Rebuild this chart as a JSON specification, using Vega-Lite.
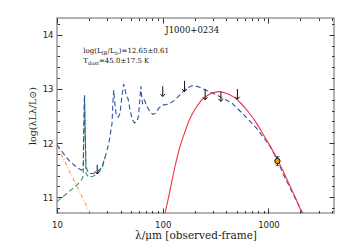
{
  "$schema": "https://vega.github.io/schema/vega-lite/v6.json",
  "width": 277,
  "height": 195,
  "autosize": "none",
  "padding": {"left": 57, "top": 18, "right": 16, "bottom": 37},
  "config": {"view": {"stroke": "#999999", "strokeWidth": 1.5}},
  "datasets": {
    "blue": [
      {"lam":10,"y":11.97},{"lam":11,"y":11.86},{"lam":12,"y":11.76},{"lam":13,"y":11.68},{"lam":14.4,"y":11.60},{"lam":16,"y":11.53},{"lam":17.2,"y":11.50},{"lam":17.7,"y":11.56},{"lam":17.95,"y":12.3},{"lam":18.2,"y":12.89},{"lam":18.45,"y":12.3},{"lam":18.8,"y":11.56},{"lam":19.9,"y":11.44},{"lam":22,"y":11.44},{"lam":23.9,"y":11.47},{"lam":26.6,"y":11.55},{"lam":28.6,"y":11.75},{"lam":30.8,"y":11.98},{"lam":33.1,"y":12.35},{"lam":34.0,"y":12.85},{"lam":34.4,"y":12.98},{"lam":35.2,"y":12.75},{"lam":36.4,"y":12.50},{"lam":38,"y":12.48},{"lam":39.5,"y":12.55},{"lam":41,"y":12.85},{"lam":42.7,"y":13.09},{"lam":44,"y":13.0},{"lam":45.2,"y":12.88},{"lam":47,"y":12.82},{"lam":49,"y":12.62},{"lam":51.2,"y":12.45},{"lam":54,"y":12.37},{"lam":57,"y":12.40},{"lam":59,"y":12.50},{"lam":61,"y":12.85},{"lam":62.2,"y":13.05},{"lam":63.3,"y":12.85},{"lam":64.5,"y":12.72},{"lam":66.7,"y":12.80},{"lam":68.5,"y":12.76},{"lam":71,"y":12.67},{"lam":76,"y":12.58},{"lam":80.6,"y":12.53},{"lam":85.7,"y":12.55},{"lam":91.4,"y":12.64},{"lam":98.4,"y":12.70},{"lam":113.8,"y":12.72},{"lam":126.6,"y":12.78},{"lam":146,"y":12.89},{"lam":163,"y":13.00},{"lam":189,"y":13.06},{"lam":218,"y":13.04},{"lam":261,"y":12.97},{"lam":324,"y":12.89},{"lam":403,"y":12.79},{"lam":451,"y":12.74},{"lam":580,"y":12.53},{"lam":776,"y":12.27},{"lam":1038,"y":11.94},{"lam":1216,"y":11.68},{"lam":1387,"y":11.42},{"lam":1722,"y":11.05},{"lam":2080,"y":10.73},{"lam":2200,"y":10.62}
    ],
    "green": [
      {"lam":10,"y":10.92},{"lam":12.4,"y":11.07},{"lam":15.5,"y":11.23},{"lam":17.2,"y":11.33},{"lam":17.7,"y":11.40},{"lam":17.95,"y":12.25},{"lam":18.2,"y":12.86},{"lam":18.45,"y":12.25},{"lam":18.8,"y":11.45},{"lam":19.9,"y":11.37},{"lam":22,"y":11.39},{"lam":23.9,"y":11.43},{"lam":26.6,"y":11.53},{"lam":28.6,"y":11.75}
    ],
    "orange": [
      {"lam":10,"y":11.95},{"lam":15,"y":11.25},{"lam":22,"y":10.6}
    ],
    "red": [
      {"lam":103,"y":10.62},{"lam":115,"y":11.05},{"lam":130,"y":11.55},{"lam":145,"y":11.92},{"lam":163,"y":12.22},{"lam":179,"y":12.43},{"lam":200,"y":12.61},{"lam":230,"y":12.78},{"lam":260,"y":12.87},{"lam":290,"y":12.92},{"lam":340,"y":12.95},{"lam":400,"y":12.92},{"lam":470,"y":12.85},{"lam":540,"y":12.75},{"lam":650,"y":12.57},{"lam":776,"y":12.36},{"lam":900,"y":12.15},{"lam":1000,"y":12.0},{"lam":1216,"y":11.70},{"lam":1387,"y":11.47},{"lam":1600,"y":11.21},{"lam":1800,"y":10.99},{"lam":2000,"y":10.78},{"lam":2200,"y":10.58}
    ],
    "limits": [
      {"lam":24,"ytop":11.60,"ytip":11.43},
      {"lam":100,"ytop":13.05,"ytip":12.86},
      {"lam":161,"ytop":13.15,"ytip":12.95},
      {"lam":252,"ytop":13.0,"ytip":12.80},
      {"lam":355,"ytop":12.95,"ytip":12.77},
      {"lam":509,"ytop":13.0,"ytip":12.81}
    ],
    "detect": [
      {"lam":1216,"y":11.67,"lo":11.59,"hi":11.75}
    ]
  },
  "layer": [
    {
      "data": {"name": "orange"},
      "mark": {"type": "line", "color": "#ff9a3c", "strokeWidth": 1.1, "strokeDash": [4, 2, 1, 2], "clip": true},
      "encoding": {
        "x": {"field": "lam", "type": "quantitative", "scale": {"type": "log", "domain": [10, 4170], "nice": false},
          "axis": {"orient": "bottom", "values": [10, 100, 1000], "format": "d",
            "tickSize": -5, "tickColor": "#333333", "labelPadding": 12, "labelFlush": false, "labelOverlap": false, "grid": false, "domain": false,
            "labelFont": "DejaVu Sans", "labelFontSize": 8.5, "labelColor": "#222222",
            "title": "λ/μm [observed-frame]", "titleFont": "DejaVu Serif", "titleFontSize": 10.5, "titleFontWeight": "normal", "titleColor": "#222222", "titlePadding": 2}},
        "y": {"field": "y", "type": "quantitative", "scale": {"domain": [10.71, 14.31], "nice": false, "zero": false},
          "axis": {"orient": "left", "values": [11, 12, 13, 14], "format": "d",
            "tickSize": -5, "tickColor": "#333333", "labelPadding": 9, "labelFlush": false, "labelOverlap": false, "grid": false, "domain": false,
            "labelFont": "DejaVu Sans", "labelFontSize": 8.5, "labelColor": "#222222",
            "title": "log(λLλ/L⊙)", "titleFont": "DejaVu Serif", "titleFontSize": 9.5, "titleFontWeight": "normal", "titleColor": "#222222", "titlePadding": 5}}
      }
    },
    {
      "data": {"name": "green"},
      "mark": {"type": "line", "color": "#2f9a5a", "strokeWidth": 1.1, "strokeDash": [5, 3], "clip": true},
      "encoding": {
        "x": {"field": "lam", "type": "quantitative", "scale": {"type": "log", "domain": [10, 4170], "nice": false},
          "axis": {"orient": "bottom", "values": [20,30,40,50,60,70,80,90,200,300,400,500,600,700,800,900,2000,3000,4000],
            "labels": false, "title": null, "grid": false, "domain": false, "tickColor": "#333333", "tickSize": -2.5}},
        "y": {"field": "y", "type": "quantitative", "scale": {"domain": [10.71, 14.31], "nice": false, "zero": false},
          "axis": {"orient": "left", "values": [10.8,11.2,11.4,11.6,11.8,12.2,12.4,12.6,12.8,13.2,13.4,13.6,13.8,14.2],
            "labels": false, "title": null, "grid": false, "domain": false, "tickColor": "#333333", "tickSize": -2.5}}
      }
    },
    {
      "data": {"name": "blue"},
      "mark": {"type": "line", "color": "#3050a8", "strokeWidth": 1.1, "strokeDash": [5, 3], "clip": true},
      "encoding": {
        "x": {"field": "lam", "type": "quantitative", "scale": {"type": "log", "domain": [10, 4170], "nice": false},
          "axis": {"orient": "top", "values": [10, 100, 1000],
            "labels": false, "title": null, "grid": false, "domain": false, "tickColor": "#333333", "tickSize": -5}},
        "y": {"field": "y", "type": "quantitative", "scale": {"domain": [10.71, 14.31], "nice": false, "zero": false},
          "axis": {"orient": "right", "values": [11, 12, 13, 14],
            "labels": false, "title": null, "grid": false, "domain": false, "tickColor": "#333333", "tickSize": -5}}
      }
    },
    {
      "data": {"name": "red"},
      "mark": {"type": "line", "color": "#f03448", "strokeWidth": 1.1, "interpolate": "monotone", "clip": true},
      "encoding": {
        "x": {"field": "lam", "type": "quantitative", "scale": {"type": "log", "domain": [10, 4170], "nice": false},
          "axis": {"orient": "top", "values": [20,30,40,50,60,70,80,90,200,300,400,500,600,700,800,900,2000,3000,4000],
            "labels": false, "title": null, "grid": false, "domain": false, "tickColor": "#333333", "tickSize": -2.5}},
        "y": {"field": "y", "type": "quantitative", "scale": {"domain": [10.71, 14.31], "nice": false, "zero": false},
          "axis": {"orient": "right", "values": [10.8,11.2,11.4,11.6,11.8,12.2,12.4,12.6,12.8,13.2,13.4,13.6,13.8,14.2],
            "labels": false, "title": null, "grid": false, "domain": false, "tickColor": "#333333", "tickSize": -2.5}}
      }
    },
    {
      "data": {"name": "limits"},
      "mark": {"type": "rule", "color": "#111111", "strokeWidth": 1},
      "encoding": {
        "x": {"field": "lam", "type": "quantitative", "scale": {"type": "log", "domain": [10, 4170], "nice": false}, "axis": null},
        "y": {"field": "ytop", "type": "quantitative", "scale": {"domain": [10.71, 14.31], "nice": false, "zero": false}, "axis": null},
        "y2": {"field": "ytip"}
      }
    },
    {
      "data": {"name": "limits"},
      "mark": {"type": "point", "shape": "M-1,-1.1L0,0L1,-1.1", "filled": false, "stroke": "#111111", "strokeWidth": 1, "size": 22, "opacity": 1},
      "encoding": {
        "x": {"field": "lam", "type": "quantitative", "scale": {"type": "log", "domain": [10, 4170], "nice": false}, "axis": null},
        "y": {"field": "ytip", "type": "quantitative", "scale": {"domain": [10.71, 14.31], "nice": false, "zero": false}, "axis": null}
      }
    },
    {
      "data": {"name": "detect"},
      "mark": {"type": "rule", "color": "#111111", "strokeWidth": 1},
      "encoding": {
        "x": {"field": "lam", "type": "quantitative", "scale": {"type": "log", "domain": [10, 4170], "nice": false}, "axis": null},
        "y": {"field": "lo", "type": "quantitative", "scale": {"domain": [10.71, 14.31], "nice": false, "zero": false}, "axis": null},
        "y2": {"field": "hi"}
      }
    },
    {
      "data": {"name": "detect"},
      "mark": {"type": "tick", "orient": "horizontal", "color": "#111111", "thickness": 1, "size": 4},
      "encoding": {
        "x": {"field": "lam", "type": "quantitative", "scale": {"type": "log", "domain": [10, 4170], "nice": false}, "axis": null},
        "y": {"field": "lo", "type": "quantitative", "scale": {"domain": [10.71, 14.31], "nice": false, "zero": false}, "axis": null}
      }
    },
    {
      "data": {"name": "detect"},
      "mark": {"type": "tick", "orient": "horizontal", "color": "#111111", "thickness": 1, "size": 4},
      "encoding": {
        "x": {"field": "lam", "type": "quantitative", "scale": {"type": "log", "domain": [10, 4170], "nice": false}, "axis": null},
        "y": {"field": "hi", "type": "quantitative", "scale": {"domain": [10.71, 14.31], "nice": false, "zero": false}, "axis": null}
      }
    },
    {
      "data": {"name": "detect"},
      "mark": {"type": "point", "shape": "circle", "filled": true, "fill": "#f5a000", "stroke": "#111111", "strokeWidth": 1, "size": 28, "opacity": 1},
      "encoding": {
        "x": {"field": "lam", "type": "quantitative", "scale": {"type": "log", "domain": [10, 4170], "nice": false}, "axis": null},
        "y": {"field": "y", "type": "quantitative", "scale": {"domain": [10.71, 14.31], "nice": false, "zero": false}, "axis": null}
      }
    },
    {
      "data": {"values": [{"lam": 190, "y": 14.09, "label": "J1000+0234"}]},
      "mark": {"type": "text", "align": "center", "baseline": "middle", "font": "DejaVu Serif", "fontSize": 8.5, "color": "#111111"},
      "encoding": {
        "x": {"field": "lam", "type": "quantitative", "scale": {"type": "log", "domain": [10, 4170], "nice": false}, "axis": null},
        "y": {"field": "y", "type": "quantitative", "scale": {"domain": [10.71, 14.31], "nice": false, "zero": false}, "axis": null},
        "text": {"field": "label"}
      }
    },
    {
      "data": {"values": [{"lam": 17.73, "y": 13.70, "label": "log(L"}]},
      "mark": {"type": "text", "align": "left", "baseline": "middle", "font": "DejaVu Serif", "fontSize": 7, "color": "#111111", "dx": 0},
      "encoding": {
        "x": {"field": "lam", "type": "quantitative", "scale": {"type": "log", "domain": [10, 4170], "nice": false}, "axis": null},
        "y": {"field": "y", "type": "quantitative", "scale": {"domain": [10.71, 14.31], "nice": false, "zero": false}, "axis": null},
        "text": {"field": "label"}
      }
    },
    {
      "data": {"values": [{"lam": 17.73, "y": 13.70, "label": "IR"}]},
      "mark": {"type": "text", "align": "left", "baseline": "middle", "font": "DejaVu Serif", "fontSize": 5, "color": "#111111", "dx": 18.3, "dy": 2},
      "encoding": {
        "x": {"field": "lam", "type": "quantitative", "scale": {"type": "log", "domain": [10, 4170], "nice": false}, "axis": null},
        "y": {"field": "y", "type": "quantitative", "scale": {"domain": [10.71, 14.31], "nice": false, "zero": false}, "axis": null},
        "text": {"field": "label"}
      }
    },
    {
      "data": {"values": [{"lam": 17.73, "y": 13.70, "label": "/L"}]},
      "mark": {"type": "text", "align": "left", "baseline": "middle", "font": "DejaVu Serif", "fontSize": 7, "color": "#111111", "dx": 24.3},
      "encoding": {
        "x": {"field": "lam", "type": "quantitative", "scale": {"type": "log", "domain": [10, 4170], "nice": false}, "axis": null},
        "y": {"field": "y", "type": "quantitative", "scale": {"domain": [10.71, 14.31], "nice": false, "zero": false}, "axis": null},
        "text": {"field": "label"}
      }
    },
    {
      "data": {"values": [{"lam": 17.73, "y": 13.70, "label": "⊙"}]},
      "mark": {"type": "text", "align": "left", "baseline": "middle", "font": "DejaVu Sans", "fontSize": 5, "color": "#111111", "dx": 31.1, "dy": 2},
      "encoding": {
        "x": {"field": "lam", "type": "quantitative", "scale": {"type": "log", "domain": [10, 4170], "nice": false}, "axis": null},
        "y": {"field": "y", "type": "quantitative", "scale": {"domain": [10.71, 14.31], "nice": false, "zero": false}, "axis": null},
        "text": {"field": "label"}
      }
    },
    {
      "data": {"values": [{"lam": 17.73, "y": 13.70, "label": ")=12.65±0.61"}]},
      "mark": {"type": "text", "align": "left", "baseline": "middle", "font": "DejaVu Serif", "fontSize": 7, "color": "#111111", "dx": 35.5},
      "encoding": {
        "x": {"field": "lam", "type": "quantitative", "scale": {"type": "log", "domain": [10, 4170], "nice": false}, "axis": null},
        "y": {"field": "y", "type": "quantitative", "scale": {"domain": [10.71, 14.31], "nice": false, "zero": false}, "axis": null},
        "text": {"field": "label"}
      }
    },
    {
      "data": {"values": [{"lam": 17.73, "y": 13.52, "label": "T"}]},
      "mark": {"type": "text", "align": "left", "baseline": "middle", "font": "DejaVu Serif", "fontSize": 7, "color": "#111111", "dx": 0},
      "encoding": {
        "x": {"field": "lam", "type": "quantitative", "scale": {"type": "log", "domain": [10, 4170], "nice": false}, "axis": null},
        "y": {"field": "y", "type": "quantitative", "scale": {"domain": [10.71, 14.31], "nice": false, "zero": false}, "axis": null},
        "text": {"field": "label"}
      }
    },
    {
      "data": {"values": [{"lam": 17.73, "y": 13.52, "label": "dust"}]},
      "mark": {"type": "text", "align": "left", "baseline": "middle", "font": "DejaVu Serif", "fontSize": 5, "color": "#111111", "dx": 4.8, "dy": 2},
      "encoding": {
        "x": {"field": "lam", "type": "quantitative", "scale": {"type": "log", "domain": [10, 4170], "nice": false}, "axis": null},
        "y": {"field": "y", "type": "quantitative", "scale": {"domain": [10.71, 14.31], "nice": false, "zero": false}, "axis": null},
        "text": {"field": "label"}
      }
    },
    {
      "data": {"values": [{"lam": 17.73, "y": 13.52, "label": "=45.0±17.5 K"}]},
      "mark": {"type": "text", "align": "left", "baseline": "middle", "font": "DejaVu Serif", "fontSize": 7, "color": "#111111", "dx": 15.7},
      "encoding": {
        "x": {"field": "lam", "type": "quantitative", "scale": {"type": "log", "domain": [10, 4170], "nice": false}, "axis": null},
        "y": {"field": "y", "type": "quantitative", "scale": {"domain": [10.71, 14.31], "nice": false, "zero": false}, "axis": null},
        "text": {"field": "label"}
      }
    }
  ],
  "resolve": {"axis": {"x": "independent", "y": "independent"}}
}
